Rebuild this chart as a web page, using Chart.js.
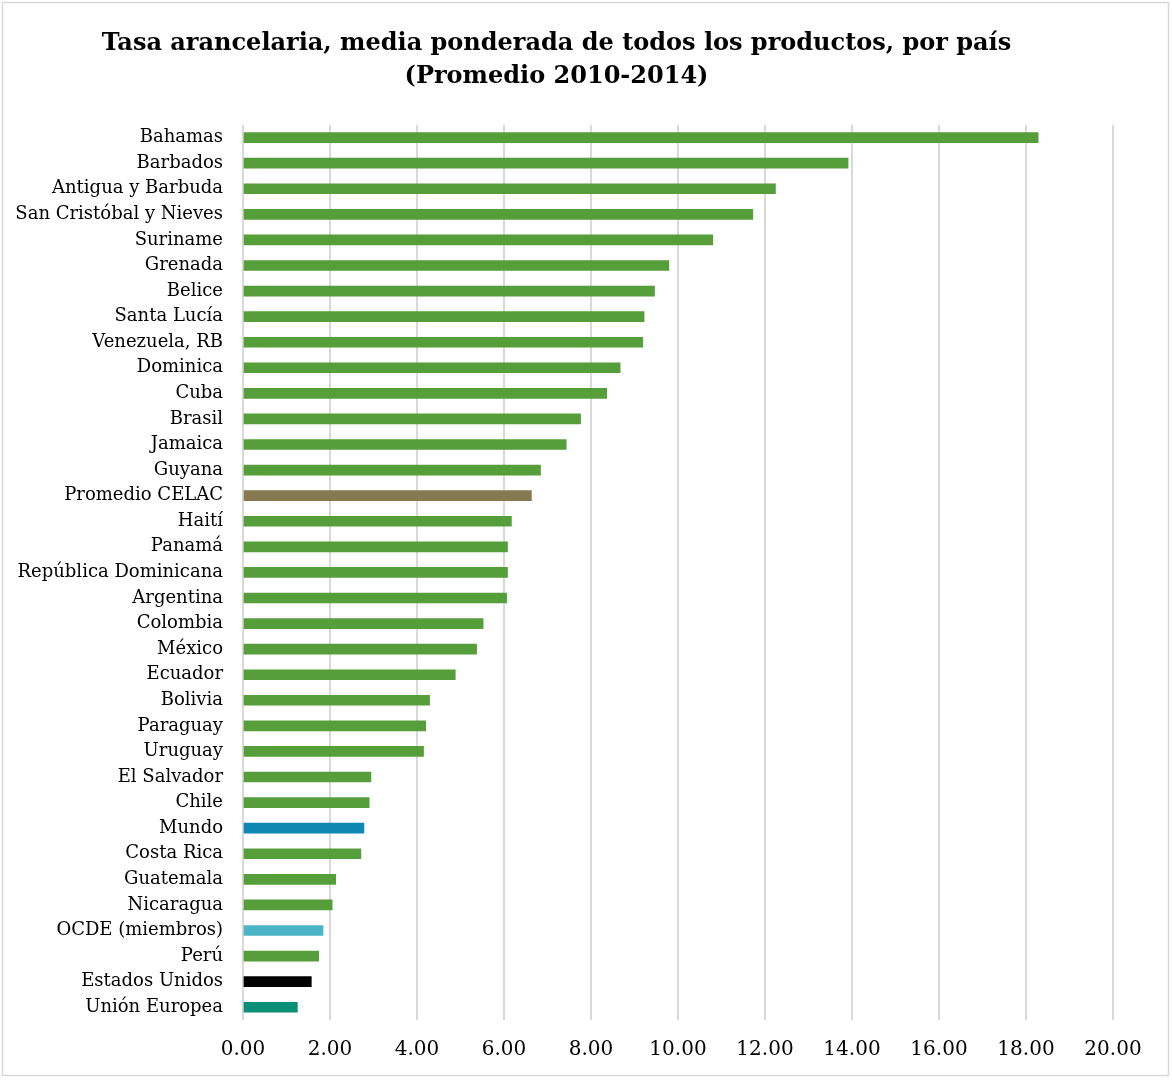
<!DOCTYPE html>
<html>
<head>
<meta charset="utf-8">
<script src="https://cdn.jsdelivr.net/npm/chart.js@4"></script>
<style>
html,body{margin:0;padding:0;background:#fff;}
#wrap{width:1172px;height:1080px;position:relative;}
</style>
</head>
<body>
<div id="wrap"><canvas id="c" width="1172" height="1080"></canvas></div>
<script>
const categories = ["Bahamas","Barbados","Antigua y Barbuda","San Cristóbal y Nieves","Suriname","Grenada","Belice","Santa Lucía","Venezuela, RB","Dominica","Cuba","Brasil","Jamaica","Guyana","Promedio CELAC","Haití","Panamá","República Dominicana","Argentina","Colombia","México","Ecuador","Bolivia","Paraguay","Uruguay","El Salvador","Chile","Mundo","Costa Rica","Guatemala","Nicaragua","OCDE (miembros)","Perú","Estados Unidos","Unión Europea"];
const values = [18.28,13.91,12.24,11.72,10.80,9.79,9.46,9.22,9.19,8.67,8.36,7.76,7.43,6.84,6.63,6.17,6.08,6.08,6.06,5.52,5.37,4.88,4.29,4.20,4.15,2.94,2.90,2.78,2.71,2.13,2.05,1.84,1.74,1.57,1.25];
const xTicks = [0,2,4,6,8,10,12,14,16,18,20];
const titleLines = ["Tasa arancelaria, media ponderada de todos los productos, por país","(Promedio 2010-2014)"];
const specialColors = {"Promedio CELAC":"#877950","Mundo":"#0F87B2","OCDE (miembros)":"#4BB4C6","Estados Unidos":"#000000","Unión Europea":"#0B9077"};
const baseColor = "#559E3A";
const barColors = categories.map(c => specialColors[c] || baseColor);

const framePlugin = {
  id:'frame',
  afterDraw(chart){
    const ctx = chart.ctx;
    ctx.save();
    ctx.strokeStyle = '#d9d9d9';
    ctx.lineWidth = 1.5;
    ctx.strokeRect(2.5,2.5,1166,1073);
    ctx.restore();
  }
};

new Chart(document.getElementById('c'), {
  type:'bar',
  data:{
    labels:categories,
    datasets:[{data:values, backgroundColor:barColors, barThickness:10, borderWidth:0}]
  },
  options:{
    indexAxis:'y',
    responsive:false,
    animation:false,
    layout:{padding:{left:0,right:59,top:0,bottom:0}},
    plugins:{
      legend:{display:false},
      tooltip:{enabled:false},
      title:{
        display:true,
        text:titleLines,
        color:'#000',
        font:{family:'"DejaVu Serif"',size:24,weight:'bold',lineHeight:1.35},
        padding:{top:28,bottom:32}
      }
    },
    scales:{
      x:{
        min:0,max:20,
        afterBuildTicks(scale){ scale.ticks = xTicks.map(v=>({value:v})); },
        ticks:{
          color:'#000',
          font:{family:'"DejaVu Serif"',size:20},
          padding:18,
          maxRotation:0,
          callback:(v)=>Number(v).toFixed(2)
        },
        grid:{color:'#d9d9d9',lineWidth:2,drawTicks:false},
        border:{display:false},
        afterFit(scale){ scale.height = 60; }
      },
      y:{
        ticks:{
          color:'#000',
          font:{family:'"DejaVu Serif"',size:18},
          padding:20,
          autoSkip:false
        },
        grid:{display:false,drawTicks:false},
        border:{display:false},
        afterFit(scale){ scale.width = 243; }
      }
    }
  },
  plugins:[framePlugin]
});
</script>
</body>
</html>
